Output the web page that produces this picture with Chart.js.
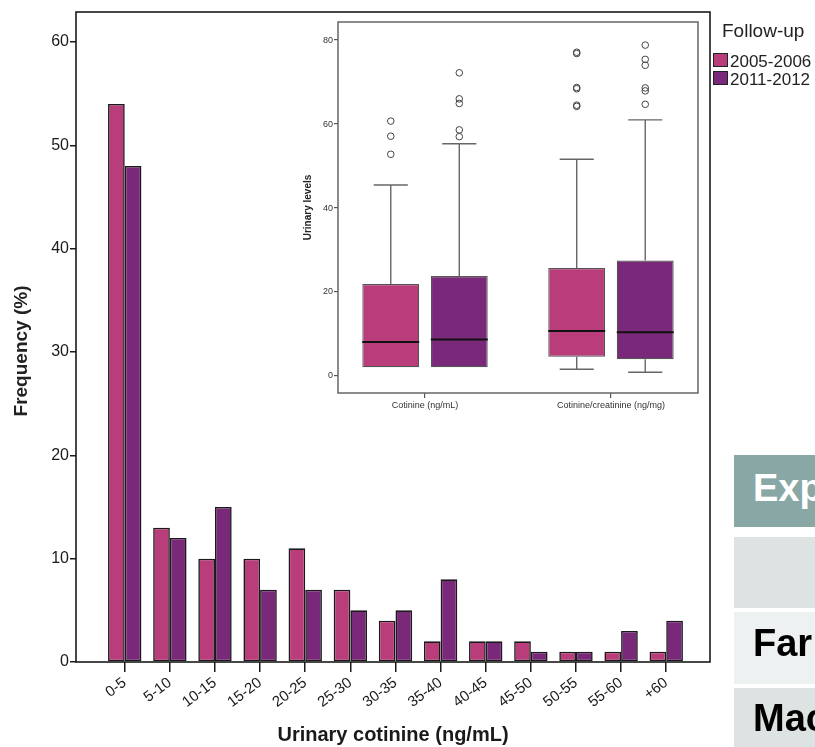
<!DOCTYPE html>
<html>
<head>
<meta charset="utf-8">
<script src="https://cdn.jsdelivr.net/npm/chart.js@4.4.1/dist/chart.umd.min.js"></script>
<style>
  html, body { margin: 0; padding: 0; background: #fff; overflow: hidden; }
  body { width: 815px; height: 747px; position: relative; font-family: "Liberation Sans", Arial, sans-serif; }
  canvas { position: absolute; }
  #main { left: 0; top: 0; }
  #inset { left: 280px; top: 10px; }
  #legend { position: absolute; left: 713px; top: 0; color: #222; white-space: nowrap; }
  #legend .ttl { position: absolute; left: 9px; top: 20px; font-size: 19px; }
  #legend .item { position: absolute; left: 0; font-size: 17px; line-height: 17px; }
  #legend .sw { display: inline-block; width: 13px; height: 12px; border: 1px solid #222; vertical-align: top; margin-right: 2px; }
  .cell { position: absolute; left: 734px; width: 81px; overflow: hidden; font-weight: bold; font-size: 38px; white-space: nowrap; }
  .cell span { position: absolute; left: 19px; }
</style>
</head>
<body>
<canvas id="main" width="815" height="747"></canvas>
<canvas id="inset" width="430" height="420"></canvas>
<div id="legend"><div class="ttl">Follow-up</div></div>

<div class="cell" style="top:455px;height:72px;background:#89A8A5;color:#fff"><span style="top:12px">Exp</span></div>
<div class="cell" style="top:537px;height:71px;background:#DCE3E2"></div>
<div class="cell" style="top:612px;height:72px;background:#EDF1F1;color:#000"><span style="top:10px">Far</span></div>
<div class="cell" style="top:688px;height:59px;background:#DCE3E2;color:#000"><span style="top:9px">Mac</span></div>

<script>
// ---- histogram data (percent of samples per cotinine band)
const categories = ['0-5', '5-10', '10-15', '15-20', '20-25', '25-30', '30-35',
                    '35-40', '40-45', '45-50', '50-55', '55-60', '+60'];
const freq2005 = [54, 13, 10, 10, 11, 7, 4, 2, 2, 2, 1, 1, 1];
const freq2011 = [48, 12, 15, 7, 7, 5, 5, 8, 2, 1, 1, 3, 4];
const freqTicks = [0, 10, 20, 30, 40, 50, 60];
const seriesNames = ['2005-2006', '2011-2012'];

// ---- inset box plot data
const boxGroups = ['Cotinine (ng/mL)', 'Cotinine/creatinine (ng/mg)'];
const q1_2005 = [2.1, 4.6];
const median2005 = [8.1, 10.7];
const q3_2005 = [21.9, 25.7];
const whiskLo2005 = [2.1, 1.6];
const whiskHi2005 = [45.5, 51.6];
const outliers2005 = [[60.7, 57.1, 52.8], [77.1, 76.8, 68.7, 68.4, 64.5, 64.2]];
const q1_2011 = [2.1, 4.0];
const median2011 = [8.7, 10.4];
const q3_2011 = [23.8, 27.5];
const whiskLo2011 = [2.1, 0.9];
const whiskHi2011 = [55.3, 61.0];
const outliers2011 = [[72.2, 66.0, 64.9, 58.6, 57.0], [78.8, 75.4, 74.0, 68.6, 67.9, 64.7]];
const levelTicks = [0, 20, 40, 60, 80];

const PINK = '#B93D7A';
const PURPLE = '#7A287A';
const FONT = "'Liberation Sans', Arial, sans-serif";

// legend (HTML, built from the series names)
const legend = document.getElementById('legend');
[PINK, PURPLE].forEach((c, i) => {
  const item = document.createElement('div');
  item.className = 'item';
  item.style.top = (53 + i * 18) + 'px';
  item.innerHTML = '<span class="sw" style="background:' + c + '"></span>' + seriesNames[i];
  legend.appendChild(item);
});

// closed frame around the plot area
const framePlugin = (color, width) => ({
  id: 'frame',
  afterDraw(chart) {
    const { ctx, chartArea: a } = chart;
    ctx.save();
    ctx.strokeStyle = color;
    ctx.lineWidth = width;
    ctx.strokeRect(a.left, a.top, a.right - a.left, a.bottom - a.top);
    ctx.restore();
  }
});

// y title sits a bit below the plot centre in the original, so place it by hand
const yTitlePlugin = {
  id: 'yTitle',
  afterDraw(chart) {
    const { ctx } = chart;
    ctx.save();
    ctx.translate(22, 351);
    ctx.rotate(-Math.PI / 2);
    ctx.font = 'bold 19px ' + FONT;
    ctx.fillStyle = '#222';
    ctx.textAlign = 'center';
    ctx.textBaseline = 'middle';
    ctx.fillText('Frequency (%)', 0, 0);
    ctx.restore();
  }
};

// ── Histogram ──────────────────────────────────────────────
new Chart(document.getElementById('main'), {
  type: 'bar',
  data: {
    datasets: [freq2005, freq2011].map((vals, d) => ({
      label: seriesNames[d],
      data: vals.map((v, i) => ({ x: i, y: v })),
      backgroundColor: d ? PURPLE : PINK,
      borderColor: '#1a1a1a',
      borderWidth: 1.6,
      borderSkipped: false,
      categoryPercentage: 0.74,
      barPercentage: 1
    }))
  },
  options: {
    responsive: false,
    animation: false,
    layout: { padding: { top: 12, right: 105, left: 0, bottom: 0 } },
    plugins: { legend: { display: false }, tooltip: { enabled: false } },
    scales: {
      x: {
        type: 'linear',
        min: -1.08,
        max: 12.97,
        offset: false,
        afterBuildTicks: s => { s.ticks = categories.map((_, i) => ({ value: i })); },
        afterFit: s => { s.height = 85; },
        ticks: {
          autoSkip: false, minRotation: 37, maxRotation: 37, padding: 2,
          color: '#1a1a1a', font: { family: FONT, size: 15 },
          callback: v => categories[v]
        },
        grid: { drawOnChartArea: false, offset: false, color: '#1a1a1a', lineWidth: 1.5, tickLength: 10 },
        border: { display: false },
        title: {
          display: true, text: 'Urinary cotinine (ng/mL)', color: '#1a1a1a',
          font: { family: FONT, size: 20, weight: 'bold' }, padding: { top: 0, bottom: 0 }
        }
      },
      y: {
        min: 0,
        max: 62.9,
        afterBuildTicks: s => { s.ticks = freqTicks.map(v => ({ value: v })); },
        afterFit: s => { s.width = 76; },
        ticks: { color: '#1a1a1a', padding: 1, font: { family: FONT, size: 16 } },
        grid: { drawOnChartArea: false, color: '#1a1a1a', lineWidth: 1.5, tickLength: 6 },
        border: { display: false }
      }
    }
  },
  plugins: [framePlugin('#1a1a1a', 1.6), yTitlePlugin]
});

// ── Inset box plot ─────────────────────────────────────────
const boxSeries = [
  { q1: q1_2005, q3: q3_2005, med: median2005, lo: whiskLo2005, hi: whiskHi2005, out: outliers2005 },
  { q1: q1_2011, q3: q3_2011, med: median2011, lo: whiskLo2011, hi: whiskHi2011, out: outliers2011 }
];

const boxPartsPlugin = {
  id: 'boxParts',
  afterDatasetsDraw(chart) {
    const { ctx } = chart;
    const ys = chart.scales.y;
    const py = v => ys.getPixelForValue(v);
    const line = (x1, y1, x2, y2) => { ctx.beginPath(); ctx.moveTo(x1, y1); ctx.lineTo(x2, y2); ctx.stroke(); };
    ctx.save();
    boxSeries.forEach((s, d) => {
      chart.getDatasetMeta(d).data.forEach((bar, i) => {
        const x = bar.x, w = bar.width;
        const cap = w * 0.3;
        ctx.strokeStyle = '#666';
        ctx.lineWidth = 1.4;
        line(x, py(s.q3[i]), x, py(s.hi[i]));
        line(x - cap, py(s.hi[i]), x + cap, py(s.hi[i]));
        if (s.lo[i] < s.q1[i]) {
          line(x, py(s.q1[i]), x, py(s.lo[i]));
          line(x - cap, py(s.lo[i]), x + cap, py(s.lo[i]));
        }
        ctx.strokeStyle = '#111';
        ctx.lineWidth = 2;
        line(x - w / 2, py(s.med[i]), x + w / 2, py(s.med[i]));
        ctx.strokeStyle = '#444';
        ctx.lineWidth = 1;
        s.out[i].forEach(v => {
          ctx.beginPath();
          ctx.arc(x, py(v), 3.3, 0, Math.PI * 2);
          ctx.stroke();
        });
      });
    });
    ctx.restore();
  }
};

new Chart(document.getElementById('inset'), {
  type: 'bar',
  data: {
    datasets: boxSeries.map((s, d) => ({
      label: seriesNames[d],
      data: s.q1.map((q, i) => ({ x: i, y: [q, s.q3[i]] })),
      backgroundColor: d ? PURPLE : PINK,
      borderColor: '#555',
      borderWidth: 1.2,
      borderSkipped: false,
      categoryPercentage: 0.737,
      barPercentage: 0.83
    }))
  },
  options: {
    responsive: false,
    animation: false,
    layout: { padding: { top: 12, right: 12, left: 0, bottom: 0 } },
    plugins: { legend: { display: false }, tooltip: { enabled: false } },
    scales: {
      x: {
        type: 'linear',
        min: -0.468,
        max: 1.468,
        offset: false,
        afterBuildTicks: s => { s.ticks = boxGroups.map((_, i) => ({ value: i })); },
        afterFit: s => { s.height = 37; },
        ticks: {
          autoSkip: false, maxRotation: 0, padding: 2,
          color: '#333', font: { family: FONT, size: 9 },
          callback: v => boxGroups[v]
        },
        grid: { drawOnChartArea: false, offset: false, color: '#555', lineWidth: 1.2, tickLength: 5 },
        border: { display: false }
      },
      y: {
        min: -4.05,
        max: 84.3,
        afterBuildTicks: s => { s.ticks = levelTicks.map(v => ({ value: v })); },
        afterFit: s => { s.width = 58; },
        ticks: { color: '#333', padding: 1, font: { family: FONT, size: 9 } },
        grid: { drawOnChartArea: false, color: '#555', lineWidth: 1.2, tickLength: 4 },
        border: { display: false },
        title: {
          display: true, text: 'Urinary levels', color: '#222',
          font: { family: FONT, size: 10, weight: 'bold' }, padding: { top: 22, bottom: 0 }
        }
      }
    }
  },
  plugins: [boxPartsPlugin, framePlugin('#666', 1.5)]
});
</script>
</body>
</html>
